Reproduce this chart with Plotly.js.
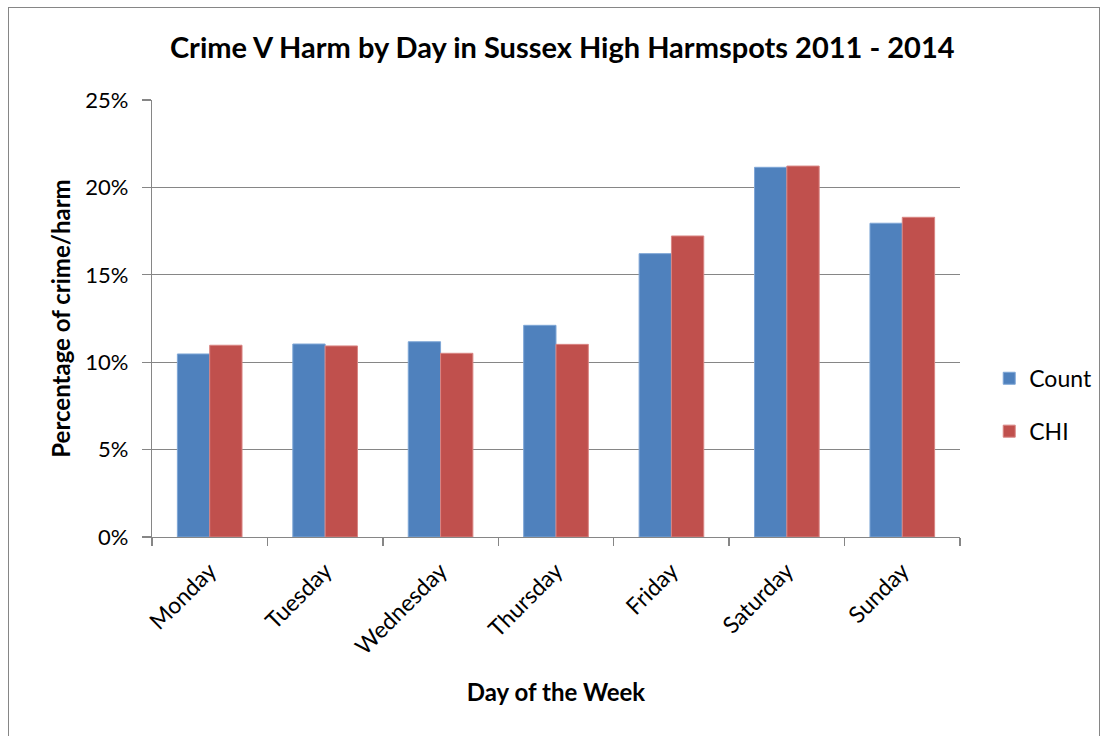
<!DOCTYPE html>
<html>
<head>
<meta charset="utf-8">
<script src="https://cdn.plot.ly/plotly-3.0.1.min.js"></script>
<style>
  html, body { margin: 0; padding: 0; background: #fff; }
  #wrap { position: relative; width: 1109px; height: 736px; }
  #chart { width: 1109px; height: 736px; }
  #frame { position: absolute; left: 8px; top: 7px; width: 1092px; height: 740px;
           border: 1px solid #868686; pointer-events: none; box-sizing: border-box; }
</style>
</head>
<body>
<div id="wrap">
  <div id="chart"></div>
  <div id="frame"></div>
</div>
<script>
const days = ["Monday", "Tuesday", "Wednesday", "Thursday", "Friday", "Saturday", "Sunday"];
const countValues = [0.1047, 0.1104, 0.1117, 0.1211, 0.1621, 0.2115, 0.1795];
const chiValues = [0.1097, 0.1093, 0.1051, 0.1102, 0.1722, 0.2122, 0.1829];
const seriesNames = ["Count", "CHI"];

const FONT = "Lato, 'Open Sans', sans-serif";

const traces = [
  { type: "bar", name: seriesNames[0], x: days, y: countValues,
    marker: { color: "#4F81BD", line: { color: "#7EA6D6", width: 1 } },
    legendgroup: "a", hoverinfo: "x+y" },
  { type: "bar", name: seriesNames[1], x: days, y: chiValues,
    marker: { color: "#C0504D", line: { color: "#D98583", width: 1 } },
    legendgroup: "b", hoverinfo: "x+y" }
];

const layout = {
  width: 1109, height: 736,
  paper_bgcolor: "#ffffff", plot_bgcolor: "#ffffff",
  margin: { l: 152, r: 149, t: 100, b: 199 },
  font: { family: FONT, color: "#000000", size: 22 },
  title: { text: "<b>Crime V Harm by Day in Sussex High Harmspots 2011 - 2014</b>",
           font: { family: FONT, size: 29, color: "#000" },
           x: 0.507, xanchor: "center", y: 0.935, yanchor: "middle" },
  barmode: "group", bargap: 0.44, bargroupgap: 0,
  xaxis: {
    type: "category",
    showgrid: false, showline: true, linecolor: "#868686", linewidth: 1.3,
    ticks: "outside", tickson: "boundaries", ticklen: 8, tickcolor: "#868686", tickwidth: 1.3,
    tickangle: -45, ticklabelstandoff: 10,
    tickfont: { family: FONT, size: 23, color: "#000" },
    title: { text: "<b>Day of the Week</b>", font: { family: FONT, size: 24, color: "#000" }, standoff: 25 },
    fixedrange: true, automargin: false
  },
  yaxis: {
    range: [0, 0.25], dtick: 0.05, tickformat: ".0%",
    showgrid: true, gridcolor: "#868686", gridwidth: 1.3,
    showline: true, linecolor: "#868686", linewidth: 1.3,
    ticks: "outside", ticklen: 9, tickcolor: "#868686", tickwidth: 1.3,
    ticklabelstandoff: 9,
    zeroline: false,
    tickfont: { family: FONT, size: 22, color: "#000" },
    title: { text: "<b>Percentage of crime/harm</b>", font: { family: FONT, size: 24, color: "#000" }, standoff: 7 },
    fixedrange: true, automargin: false
  },
  showlegend: true,
  legend: {
    xref: "container", yref: "container",
    x: 0.892, xanchor: "left", y: 0.45, yanchor: "middle",
    traceorder: "grouped", tracegroupgap: 20,
    font: { family: FONT, size: 23, color: "#000" },
    bgcolor: "rgba(0,0,0,0)"
  }
};

Plotly.newPlot("chart", traces, layout, { displayModeBar: false, staticPlot: true });
</script>
</body>
</html>
